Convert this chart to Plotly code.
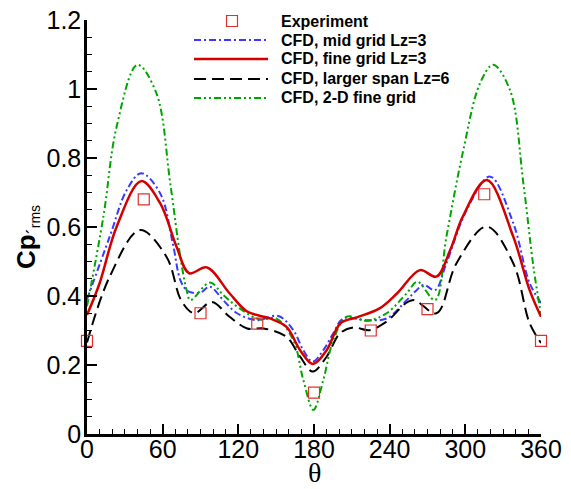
import plotly.graph_objects as go

# ---------------- data ----------------
series_names = ["Experiment", "CFD, mid grid Lz=3", "CFD, fine grid Lz=3",
                "CFD, larger span Lz=6", "CFD, 2-D fine grid"]

exp_theta = [0, 45, 90, 135, 180, 225, 270, 315, 360]
exp_cp = [0.27, 0.68, 0.35, 0.32, 0.12, 0.30, 0.362, 0.695, 0.27]

mid_theta = [0, 18, 31.5, 43, 58, 68, 74, 79, 83, 90, 97.5, 108, 119, 134.5, 151.7,
             163.6, 171.5, 179, 187.4, 195.3, 203.3, 221.8, 237.6, 253.5, 260, 267,
             276, 285, 301, 319.6, 338, 351, 360]
mid_cp = [0.39, 0.572, 0.707, 0.756, 0.698, 0.553, 0.446, 0.417, 0.41, 0.41, 0.427,
          0.388, 0.35, 0.33, 0.342, 0.301, 0.243, 0.21, 0.243, 0.292, 0.335, 0.33,
          0.335, 0.388, 0.412, 0.432, 0.417, 0.495, 0.649, 0.746, 0.611, 0.437, 0.38]

fine_theta = [0, 10, 23.5, 43, 58, 71, 81, 95, 113, 127, 145, 158, 169, 179, 190,
              201, 214, 232, 246, 264, 277, 288, 298, 317, 338, 351, 360]
fine_cp = [0.345, 0.437, 0.601, 0.733, 0.669, 0.543, 0.466, 0.483, 0.408, 0.355,
           0.335, 0.311, 0.243, 0.203, 0.243, 0.321, 0.338, 0.364, 0.408, 0.475,
           0.456, 0.533, 0.63, 0.736, 0.572, 0.417, 0.34]

span_theta = [0, 18, 42, 63, 75, 85, 99, 113, 127, 140, 158, 169, 179, 190, 200.6,
              211, 224, 237.6, 258, 277, 293, 317, 338, 351, 360]
span_cp = [0.265, 0.456, 0.591, 0.514, 0.385, 0.35, 0.383, 0.34, 0.306, 0.306, 0.282,
           0.224, 0.181, 0.224, 0.292, 0.309, 0.301, 0.326, 0.388, 0.35, 0.495, 0.601,
           0.495, 0.321, 0.264]

twod_theta = [0, 13, 23.5, 40, 55, 66, 74, 79, 82, 97.5, 108, 121, 137, 150, 163.6,
              171.5, 179.5, 187.4, 195.3, 206, 222, 237.6, 253.5, 262, 276, 285,
              298.4, 311.6, 322, 335.4, 346, 354, 360]
twod_cp = [0.37, 0.63, 0.891, 1.07, 0.988, 0.727, 0.514, 0.417, 0.388, 0.439, 0.403,
           0.364, 0.332, 0.335, 0.272, 0.157, 0.07, 0.157, 0.272, 0.34, 0.328, 0.35,
           0.408, 0.441, 0.388, 0.572, 0.823, 1.016, 1.07, 0.997, 0.727, 0.485, 0.345]

x_ticks = [0, 60, 120, 180, 240, 300, 360]

# ---------------- styles ----------------
W, H = 571, 489
ML, MR, MT, MB = 87, 30, 20, 55
PW, PH = W - ML - MR, H - MT - MB

RED = "#d40000"
EXP_RED = "#e03030"
BLUE = "#3a3aff"
GREEN = "#00a600"
BLACK = "#000000"

styles = [
    None,
    dict(color=BLUE, width=2, dash="7px,3px,2px,3px"),
    dict(color=RED, width=2.5, dash="solid"),
    dict(color=BLACK, width=2, dash="12px,6px"),
    dict(color=GREEN, width=2, dash="7px,3px,2px,3px,2px,3px"),
]

fig = go.Figure()

curves = [(mid_theta, mid_cp, 1), (span_theta, span_cp, 3),
          (twod_theta, twod_cp, 4), (fine_theta, fine_cp, 2)]
for th, cp, i in curves:
    fig.add_trace(go.Scatter(x=th, y=cp, mode="lines", name=series_names[i],
                             line=dict(shape="spline", smoothing=1.0, **styles[i]),
                             showlegend=False))

fig.add_trace(go.Scatter(x=exp_theta, y=exp_cp, mode="markers", name=series_names[0],
                         marker=dict(symbol="square-open", size=11, color=EXP_RED,
                                     line=dict(width=1.2, color=EXP_RED)),
                         showlegend=False, cliponaxis=False))


def px(xpix):
    return (xpix - ML) / PW


def py(ypix):
    return (H - MB - ypix) / PH


# ---------------- custom legend ----------------
row_y = [21, 40, 59, 79, 98]
shapes = []
annotations = []
for i, name in enumerate(series_names):
    yy = py(row_y[i])
    if i == 0:
        shapes.append(dict(type="rect", xref="paper", yref="paper",
                           x0=px(226.5), x1=px(237.5), y0=py(row_y[i] + 5.5),
                           y1=py(row_y[i] - 5.5),
                           line=dict(color=EXP_RED, width=1.2), fillcolor="rgba(0,0,0,0)"))
    else:
        st = styles[i]
        shapes.append(dict(type="line", xref="paper", yref="paper",
                           x0=px(194), x1=px(268), y0=yy, y1=yy,
                           line=dict(color=st["color"], width=st["width"], dash=st["dash"])))
    annotations.append(dict(xref="paper", yref="paper", x=px(279), y=yy,
                            xanchor="left", yanchor="middle", showarrow=False,
                            text=name,
                            font=dict(family="Liberation Sans", size=16, color="black",
                                      weight="bold")))

# axis titles
annotations.append(dict(xref="paper", yref="paper", x=px(314), y=py(472),
                        xanchor="center", yanchor="middle", showarrow=False,
                        text="θ", font=dict(family="Liberation Serif", size=28,
                                            color="black")))
annotations.append(dict(xref="paper", yref="paper", x=px(27), y=py(237),
                        xanchor="center", yanchor="middle", showarrow=False,
                        textangle=-90,
                        text="<b>Cp</b><sub>´<span style='font-size:14px'>rms</span></sub>",
                        font=dict(family="Liberation Sans", size=26, color="black")))

axis_common = dict(showgrid=False, zeroline=False, showline=True, linewidth=2.5,
                   linecolor="black", ticks="inside", ticklen=10, tickwidth=1.5,
                   tickcolor="black", automargin=False,
                   tickfont=dict(family="Liberation Sans", size=25, color="black"))

fig.update_layout(
    width=W, height=H,
    margin=dict(l=ML, r=MR, t=MT, b=MB, pad=0, autoexpand=False),
    paper_bgcolor="white", plot_bgcolor="white",
    showlegend=False,
    shapes=shapes, annotations=annotations,
    xaxis=dict(range=[0, 360], tickvals=x_ticks, ticktext=[str(v) for v in x_ticks],
               ticklabelstandoff=-9,
               minor=dict(dtick=10, ticks="inside", ticklen=5, tickwidth=1,
                          tickcolor="black", showgrid=False),
               **axis_common),
    yaxis=dict(range=[0, 1.2], dtick=0.2, tick0=0, ticklabelstandoff=-2,
               minor=dict(dtick=0.05, ticks="inside", ticklen=5, tickwidth=1,
                          tickcolor="black", showgrid=False),
               **axis_common),
)

fig.write_html("out.html", config={"displayModeBar": False},
               post_script="document.body.style.margin='0px';"
                           "document.body.style.overflow='hidden';")
